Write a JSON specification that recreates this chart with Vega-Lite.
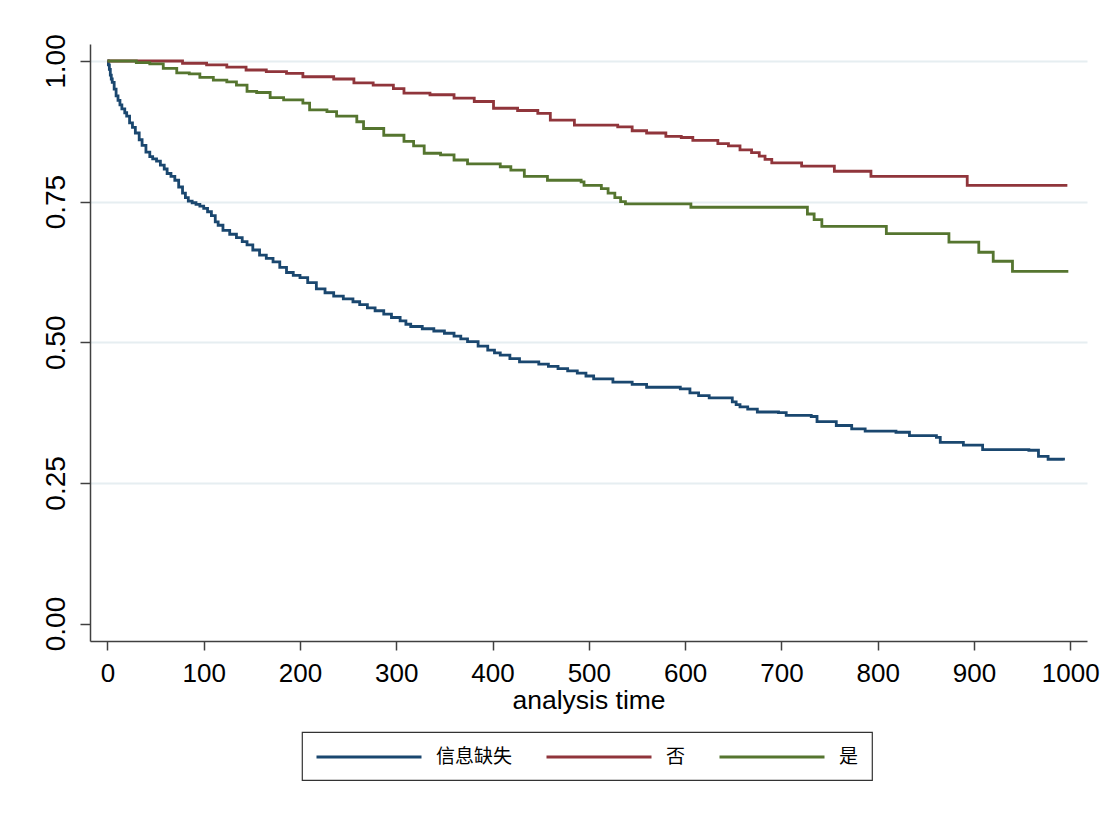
{
  "$schema": "https://vega.github.io/schema/vega-lite/v6.json",
  "width": 997,
  "height": 597,
  "autosize": "none",
  "padding": {"left": 90, "top": 44, "right": 15, "bottom": 173},
  "background": "#ffffff",
  "config": {
    "view": {"stroke": null},
    "font": "Liberation Sans",
    "legend": {"strokeWidth": 1.2}
  },
  "data": {
    "values": [
      {"g": "信息缺失", "t": 0, "s": 1.0},
      {"g": "信息缺失", "t": 1, "s": 0.993},
      {"g": "信息缺失", "t": 2, "s": 0.985},
      {"g": "信息缺失", "t": 3, "s": 0.975},
      {"g": "信息缺失", "t": 4, "s": 0.968},
      {"g": "信息缺失", "t": 5, "s": 0.962},
      {"g": "信息缺失", "t": 7, "s": 0.950},
      {"g": "信息缺失", "t": 9, "s": 0.938},
      {"g": "信息缺失", "t": 11, "s": 0.930},
      {"g": "信息缺失", "t": 13, "s": 0.922},
      {"g": "信息缺失", "t": 15, "s": 0.915},
      {"g": "信息缺失", "t": 18, "s": 0.908},
      {"g": "信息缺失", "t": 20, "s": 0.902},
      {"g": "信息缺失", "t": 23, "s": 0.890},
      {"g": "信息缺失", "t": 26, "s": 0.882},
      {"g": "信息缺失", "t": 29, "s": 0.872},
      {"g": "信息缺失", "t": 33, "s": 0.860},
      {"g": "信息缺失", "t": 36, "s": 0.850},
      {"g": "信息缺失", "t": 40, "s": 0.838},
      {"g": "信息缺失", "t": 44, "s": 0.830},
      {"g": "信息缺失", "t": 47, "s": 0.826},
      {"g": "信息缺失", "t": 51, "s": 0.822},
      {"g": "信息缺失", "t": 55, "s": 0.815},
      {"g": "信息缺失", "t": 59, "s": 0.808},
      {"g": "信息缺失", "t": 62, "s": 0.800},
      {"g": "信息缺失", "t": 66, "s": 0.795},
      {"g": "信息缺失", "t": 70, "s": 0.788},
      {"g": "信息缺失", "t": 74, "s": 0.776},
      {"g": "信息缺失", "t": 78, "s": 0.765},
      {"g": "信息缺失", "t": 81, "s": 0.757},
      {"g": "信息缺失", "t": 84, "s": 0.751},
      {"g": "信息缺失", "t": 88, "s": 0.748},
      {"g": "信息缺失", "t": 92, "s": 0.745},
      {"g": "信息缺失", "t": 96, "s": 0.742},
      {"g": "信息缺失", "t": 100, "s": 0.738},
      {"g": "信息缺失", "t": 104, "s": 0.732},
      {"g": "信息缺失", "t": 108, "s": 0.725},
      {"g": "信息缺失", "t": 112, "s": 0.714},
      {"g": "信息缺失", "t": 115, "s": 0.708},
      {"g": "信息缺失", "t": 120, "s": 0.699},
      {"g": "信息缺失", "t": 127, "s": 0.692},
      {"g": "信息缺失", "t": 134, "s": 0.686},
      {"g": "信息缺失", "t": 140, "s": 0.679},
      {"g": "信息缺失", "t": 145, "s": 0.673},
      {"g": "信息缺失", "t": 151, "s": 0.664},
      {"g": "信息缺失", "t": 158, "s": 0.655},
      {"g": "信息缺失", "t": 165, "s": 0.649},
      {"g": "信息缺失", "t": 172, "s": 0.643},
      {"g": "信息缺失", "t": 179, "s": 0.633},
      {"g": "信息缺失", "t": 186, "s": 0.624},
      {"g": "信息缺失", "t": 193, "s": 0.619},
      {"g": "信息缺失", "t": 200, "s": 0.615},
      {"g": "信息缺失", "t": 208, "s": 0.606},
      {"g": "信息缺失", "t": 217, "s": 0.595},
      {"g": "信息缺失", "t": 226, "s": 0.588},
      {"g": "信息缺失", "t": 235, "s": 0.582},
      {"g": "信息缺失", "t": 245, "s": 0.577},
      {"g": "信息缺失", "t": 255, "s": 0.572},
      {"g": "信息缺失", "t": 262, "s": 0.567},
      {"g": "信息缺失", "t": 270, "s": 0.561},
      {"g": "信息缺失", "t": 278, "s": 0.556},
      {"g": "信息缺失", "t": 287, "s": 0.550},
      {"g": "信息缺失", "t": 295, "s": 0.544},
      {"g": "信息缺失", "t": 304, "s": 0.538},
      {"g": "信息缺失", "t": 310, "s": 0.532},
      {"g": "信息缺失", "t": 315, "s": 0.528},
      {"g": "信息缺失", "t": 327, "s": 0.524},
      {"g": "信息缺失", "t": 339, "s": 0.520},
      {"g": "信息缺失", "t": 350, "s": 0.516},
      {"g": "信息缺失", "t": 360, "s": 0.511},
      {"g": "信息缺失", "t": 367, "s": 0.506},
      {"g": "信息缺失", "t": 374, "s": 0.501},
      {"g": "信息缺失", "t": 385, "s": 0.493},
      {"g": "信息缺失", "t": 395, "s": 0.486},
      {"g": "信息缺失", "t": 402, "s": 0.481},
      {"g": "信息缺失", "t": 408, "s": 0.477},
      {"g": "信息缺失", "t": 418, "s": 0.471},
      {"g": "信息缺失", "t": 428, "s": 0.465},
      {"g": "信息缺失", "t": 448, "s": 0.461},
      {"g": "信息缺失", "t": 458, "s": 0.457},
      {"g": "信息缺失", "t": 468, "s": 0.453},
      {"g": "信息缺失", "t": 478, "s": 0.449},
      {"g": "信息缺失", "t": 488, "s": 0.445},
      {"g": "信息缺失", "t": 497, "s": 0.440},
      {"g": "信息缺失", "t": 505, "s": 0.435},
      {"g": "信息缺失", "t": 525, "s": 0.429},
      {"g": "信息缺失", "t": 545, "s": 0.425},
      {"g": "信息缺失", "t": 560, "s": 0.420},
      {"g": "信息缺失", "t": 595, "s": 0.417},
      {"g": "信息缺失", "t": 605, "s": 0.410},
      {"g": "信息缺失", "t": 614, "s": 0.405},
      {"g": "信息缺失", "t": 625, "s": 0.401},
      {"g": "信息缺失", "t": 649, "s": 0.394},
      {"g": "信息缺失", "t": 653, "s": 0.389},
      {"g": "信息缺失", "t": 657, "s": 0.385},
      {"g": "信息缺失", "t": 665, "s": 0.381},
      {"g": "信息缺失", "t": 675, "s": 0.376},
      {"g": "信息缺失", "t": 697, "s": 0.375},
      {"g": "信息缺失", "t": 705, "s": 0.370},
      {"g": "信息缺失", "t": 731, "s": 0.368},
      {"g": "信息缺失", "t": 737, "s": 0.359},
      {"g": "信息缺失", "t": 757, "s": 0.352},
      {"g": "信息缺失", "t": 773, "s": 0.346},
      {"g": "信息缺失", "t": 787, "s": 0.342},
      {"g": "信息缺失", "t": 819, "s": 0.340},
      {"g": "信息缺失", "t": 833, "s": 0.334},
      {"g": "信息缺失", "t": 861, "s": 0.331},
      {"g": "信息缺失", "t": 865, "s": 0.322},
      {"g": "信息缺失", "t": 889, "s": 0.317},
      {"g": "信息缺失", "t": 909, "s": 0.309},
      {"g": "信息缺失", "t": 957, "s": 0.308},
      {"g": "信息缺失", "t": 967, "s": 0.297},
      {"g": "信息缺失", "t": 977, "s": 0.292},
      {"g": "信息缺失", "t": 993, "s": 0.290},
      {"g": "否", "t": 0, "s": 1.0},
      {"g": "否", "t": 75, "s": 1.0},
      {"g": "否", "t": 78, "s": 0.996},
      {"g": "否", "t": 103, "s": 0.993},
      {"g": "否", "t": 124, "s": 0.989},
      {"g": "否", "t": 144, "s": 0.984},
      {"g": "否", "t": 165, "s": 0.981},
      {"g": "否", "t": 186, "s": 0.978},
      {"g": "否", "t": 203, "s": 0.972},
      {"g": "否", "t": 235, "s": 0.968},
      {"g": "否", "t": 256, "s": 0.961},
      {"g": "否", "t": 276, "s": 0.957},
      {"g": "否", "t": 297, "s": 0.951},
      {"g": "否", "t": 308, "s": 0.943},
      {"g": "否", "t": 335, "s": 0.940},
      {"g": "否", "t": 360, "s": 0.934},
      {"g": "否", "t": 381, "s": 0.928},
      {"g": "否", "t": 401, "s": 0.916},
      {"g": "否", "t": 426, "s": 0.912},
      {"g": "否", "t": 447, "s": 0.907},
      {"g": "否", "t": 460, "s": 0.895},
      {"g": "否", "t": 485, "s": 0.886},
      {"g": "否", "t": 530, "s": 0.883},
      {"g": "否", "t": 545, "s": 0.876},
      {"g": "否", "t": 560, "s": 0.872},
      {"g": "否", "t": 580, "s": 0.866},
      {"g": "否", "t": 596, "s": 0.864},
      {"g": "否", "t": 608, "s": 0.859},
      {"g": "否", "t": 634, "s": 0.853},
      {"g": "否", "t": 645, "s": 0.849},
      {"g": "否", "t": 657, "s": 0.842},
      {"g": "否", "t": 669, "s": 0.837},
      {"g": "否", "t": 677, "s": 0.831},
      {"g": "否", "t": 683, "s": 0.825},
      {"g": "否", "t": 690, "s": 0.819},
      {"g": "否", "t": 721, "s": 0.813},
      {"g": "否", "t": 755, "s": 0.804},
      {"g": "否", "t": 793, "s": 0.795},
      {"g": "否", "t": 893, "s": 0.779},
      {"g": "否", "t": 997, "s": 0.779},
      {"g": "是", "t": 0, "s": 1.0},
      {"g": "是", "t": 21, "s": 1.0},
      {"g": "是", "t": 30, "s": 0.997},
      {"g": "是", "t": 44, "s": 0.995},
      {"g": "是", "t": 58, "s": 0.987},
      {"g": "是", "t": 72, "s": 0.979},
      {"g": "是", "t": 85, "s": 0.977},
      {"g": "是", "t": 96, "s": 0.971},
      {"g": "是", "t": 110, "s": 0.966},
      {"g": "是", "t": 124, "s": 0.963},
      {"g": "是", "t": 134, "s": 0.957},
      {"g": "是", "t": 145, "s": 0.946},
      {"g": "是", "t": 155, "s": 0.944},
      {"g": "是", "t": 169, "s": 0.935},
      {"g": "是", "t": 183, "s": 0.931},
      {"g": "是", "t": 203, "s": 0.925},
      {"g": "是", "t": 210, "s": 0.913},
      {"g": "是", "t": 228, "s": 0.910},
      {"g": "是", "t": 238, "s": 0.902},
      {"g": "是", "t": 259, "s": 0.892},
      {"g": "是", "t": 266, "s": 0.880},
      {"g": "是", "t": 287, "s": 0.868},
      {"g": "是", "t": 308, "s": 0.857},
      {"g": "是", "t": 318, "s": 0.849},
      {"g": "是", "t": 329, "s": 0.836},
      {"g": "是", "t": 346, "s": 0.833},
      {"g": "是", "t": 360, "s": 0.824},
      {"g": "是", "t": 374, "s": 0.817},
      {"g": "是", "t": 408, "s": 0.812},
      {"g": "是", "t": 419, "s": 0.806},
      {"g": "是", "t": 433, "s": 0.795},
      {"g": "是", "t": 457, "s": 0.788},
      {"g": "是", "t": 492, "s": 0.785},
      {"g": "是", "t": 495, "s": 0.779},
      {"g": "是", "t": 513, "s": 0.773},
      {"g": "是", "t": 520, "s": 0.765},
      {"g": "是", "t": 527, "s": 0.757},
      {"g": "是", "t": 533, "s": 0.750},
      {"g": "是", "t": 538, "s": 0.746},
      {"g": "是", "t": 606, "s": 0.740},
      {"g": "是", "t": 727, "s": 0.728},
      {"g": "是", "t": 734, "s": 0.718},
      {"g": "是", "t": 742, "s": 0.706},
      {"g": "是", "t": 809, "s": 0.693},
      {"g": "是", "t": 874, "s": 0.678},
      {"g": "是", "t": 905, "s": 0.660},
      {"g": "是", "t": 920, "s": 0.644},
      {"g": "是", "t": 940, "s": 0.626},
      {"g": "是", "t": 998, "s": 0.626}
    ]
  },
  "mark": {"type": "line", "interpolate": "step-after", "strokeWidth": 2.8, "strokeJoin": "miter", "strokeCap": "butt"},
  "encoding": {
    "x": {
      "field": "t",
      "type": "quantitative",
      "scale": {"domain": [-18.1, 1017.4], "nice": false, "zero": false},
      "axis": {
        "values": [0, 100, 200, 300, 400, 500, 600, 700, 800, 900, 1000],
        "format": "d",
        "title": "analysis time",
        "titleFont": "Liberation Sans",
        "titleFontSize": 26.5,
        "titleFontWeight": "normal",
        "titleColor": "#000000",
        "titleY": 67,
        "titleBaseline": "alphabetic",
        "grid": false,
        "domainColor": "#404040",
        "domainWidth": 1.5,
        "tickColor": "#404040",
        "tickWidth": 1.5,
        "tickSize": 9,
        "labelFont": "Liberation Sans",
        "labelFontSize": 26,
        "labelColor": "#000000",
        "labelPadding": 10,
        "labelFlush": false,
        "labelOverlap": false
      }
    },
    "y": {
      "field": "s",
      "type": "quantitative",
      "scale": {"domain": [-0.0311, 1.0302], "nice": false, "zero": false},
      "axis": {
        "values": [0, 0.25, 0.5, 0.75, 1],
        "format": ".2f",
        "title": null,
        "grid": true,
        "gridColor": "#e6eef1",
        "gridWidth": 2,
        "gridOpacity": {"condition": {"test": "datum.value === 0", "value": 0}, "value": 1},
        "domainColor": "#404040",
        "domainWidth": 1.5,
        "tickColor": "#404040",
        "tickWidth": 1.5,
        "tickSize": 10,
        "labelFont": "Liberation Sans",
        "labelFontSize": 28,
        "labelColor": "#000000",
        "labelAngle": -90,
        "labelAlign": "center",
        "labelBaseline": "alphabetic",
        "labelPadding": 16,
        "labelFlush": false,
        "labelOverlap": false
      }
    },
    "color": {
      "field": "g",
      "type": "nominal",
      "scale": {"domain": ["信息缺失", "否", "是"], "range": ["#1a476f", "#90353b", "#55752f"]},
      "legend": {
        "orient": "none",
        "legendX": 212,
        "legendY": 688,
        "direction": "horizontal",
        "title": null,
        "symbolType": "M-1,0H9",
        "symbolSize": 441,
        "symbolStrokeWidth": 2.8,
        "labelFont": "Noto Sans CJK SC",
        "labelFontSize": 19,
        "labelColor": "#000000",
        "labelOffset": 97,
        "columnPadding": 27,
        "padding": 13,
        "strokeColor": "#333333",
        "fillColor": "#ffffff"
      }
    }
  }
}
